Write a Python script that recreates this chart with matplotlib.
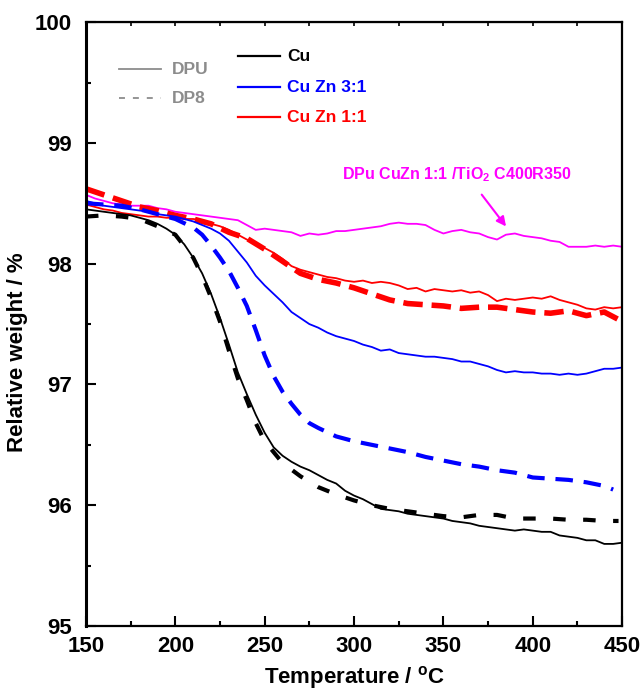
import numpy as np
import matplotlib
matplotlib.use('Agg')
import matplotlib.pyplot as plt

plt.rcParams['font.family'] = ['Liberation Sans', 'DejaVu Sans']
plt.rcParams['font.weight'] = 'bold'
plt.rcParams['mathtext.fontset'] = 'custom'
plt.rcParams['mathtext.rm'] = 'Liberation Sans:bold'
plt.rcParams['mathtext.it'] = 'Liberation Sans:bold'
plt.rcParams['mathtext.bf'] = 'Liberation Sans:bold'

# ---- dados ----
T5 = list(range(150, 451, 5))

cu_dpu = [98.45, 98.44, 98.43, 98.42, 98.41, 98.40, 98.38, 98.36, 98.33, 98.29,
          98.24, 98.16, 98.05, 97.92, 97.75, 97.55, 97.33, 97.10, 96.92, 96.75,
          96.60, 96.48, 96.41, 96.36, 96.32, 96.29, 96.25, 96.21, 96.18, 96.12,
          96.08, 96.05, 96.01, 95.97, 95.96, 95.95, 95.93, 95.92, 95.91, 95.90,
          95.89, 95.87, 95.86, 95.85, 95.83, 95.82, 95.81, 95.80, 95.79, 95.80,
          95.79, 95.78, 95.78, 95.75, 95.74, 95.73, 95.71, 95.71, 95.68, 95.68,
          95.69]

T_cu_dp8 = [150, 160, 170, 180, 190, 200, 210, 215, 220, 225, 230, 235, 240, 245,
            250, 255, 260, 270, 280, 290, 300, 310, 320, 330, 340, 350, 360, 370,
            380, 390, 400, 410, 420, 430, 440, 448]
cu_dp8 = [98.39, 98.40, 98.39, 98.37, 98.31, 98.24, 98.05, 97.90, 97.72, 97.52,
          97.28, 97.05, 96.87, 96.68, 96.53, 96.44, 96.35, 96.24, 96.15, 96.09,
          96.04, 96.00, 95.97, 95.95, 95.93, 95.91, 95.90, 95.92, 95.92, 95.89,
          95.89, 95.89, 95.88, 95.88, 95.87, 95.87]

cuzn31_dpu = [98.52, 98.50, 98.48, 98.47, 98.46, 98.45, 98.44, 98.43, 98.41, 98.40,
              98.39, 98.37, 98.35, 98.32, 98.29, 98.25, 98.19, 98.10, 98.01, 97.90,
              97.82, 97.75, 97.68, 97.60, 97.55, 97.50, 97.47, 97.43, 97.40, 97.38,
              97.36, 97.33, 97.31, 97.28, 97.29, 97.26, 97.25, 97.24, 97.23, 97.23,
              97.22, 97.21, 97.19, 97.19, 97.17, 97.15, 97.12, 97.10, 97.11, 97.10,
              97.10, 97.09, 97.09, 97.08, 97.09, 97.08, 97.09, 97.11, 97.13, 97.13,
              97.14]

T_cuzn31_dp8 = [150, 160, 170, 180, 190, 200, 210, 215, 220, 225, 230, 235, 240,
                245, 250, 255, 260, 265, 270, 275, 280, 290, 300, 310, 320, 330,
                340, 350, 360, 370, 380, 390, 400, 410, 420, 430, 440, 445]
cuzn31_dp8 = [98.50, 98.49, 98.48, 98.45, 98.41, 98.37, 98.30, 98.24, 98.15, 98.05,
              97.94, 97.80, 97.65, 97.45, 97.24, 97.07, 96.94, 96.84, 96.75, 96.68,
              96.64, 96.57, 96.53, 96.50, 96.47, 96.44, 96.40, 96.37, 96.34, 96.32,
              96.29, 96.27, 96.23, 96.22, 96.21, 96.19, 96.16, 96.13]

cuzn11_dpu = [98.49, 98.47, 98.45, 98.44, 98.42, 98.41, 98.40, 98.39, 98.39, 98.38,
              98.38, 98.37, 98.37, 98.36, 98.33, 98.31, 98.28, 98.24, 98.20, 98.17,
              98.13, 98.09, 98.04, 97.98, 97.95, 97.93, 97.91, 97.89, 97.88, 97.86,
              97.85, 97.86, 97.84, 97.85, 97.84, 97.82, 97.79, 97.80, 97.77, 97.79,
              97.78, 97.77, 97.78, 97.76, 97.77, 97.74, 97.69, 97.71, 97.70, 97.71,
              97.72, 97.71, 97.73, 97.70, 97.68, 97.66, 97.63, 97.62, 97.64, 97.63,
              97.64]

T_cuzn11_dp8 = [150, 160, 170, 180, 190, 200, 210, 220, 230, 240, 250, 260, 270,
                280, 290, 300, 310, 320, 330, 340, 350, 360, 370, 380, 390, 400,
                410, 420, 430, 440, 449]
cuzn11_dp8 = [98.62, 98.57, 98.52, 98.47, 98.44, 98.40, 98.37, 98.33, 98.26, 98.21,
              98.12, 98.02, 97.92, 97.87, 97.84, 97.80, 97.75, 97.70, 97.67, 97.66,
              97.65, 97.63, 97.64, 97.64, 97.62, 97.60, 97.59, 97.61, 97.57, 97.60,
              97.53]

tio2 = [98.57, 98.54, 98.52, 98.50, 98.49, 98.48, 98.48, 98.48, 98.46, 98.45,
        98.43, 98.42, 98.41, 98.40, 98.39, 98.38, 98.37, 98.36, 98.32, 98.28,
        98.29, 98.28, 98.27, 98.26, 98.23, 98.25, 98.24, 98.25, 98.27, 98.27,
        98.28, 98.29, 98.30, 98.31, 98.33, 98.34, 98.33, 98.33, 98.32, 98.28,
        98.25, 98.27, 98.28, 98.26, 98.25, 98.22, 98.20, 98.24, 98.25, 98.23,
        98.22, 98.21, 98.19, 98.18, 98.14, 98.14, 98.14, 98.15, 98.14, 98.15,
        98.14]

# ---- figura ----
fig = plt.figure(figsize=(6.44, 6.91), dpi=100)
ax = fig.add_axes([0.1335, 0.094, 0.8325, 0.874])

ax.plot(T5, tio2, color='#FF00FF', lw=1.3)
ax.plot(T5, cuzn11_dpu, color='#FF0000', lw=1.3)
ax.plot(T_cuzn11_dp8, cuzn11_dp8, color='#FF0000', lw=4, dashes=(3.5, 1.6))
ax.plot(T5, cuzn31_dpu, color='#0000FF', lw=1.3)
ax.plot(T_cuzn31_dp8, cuzn31_dp8, color='#0000FF', lw=3, dashes=(4.2, 2.6))
ax.plot(T5, cu_dpu, color='black', lw=1.3)
ax.plot(T_cu_dp8, cu_dp8, color='black', lw=3, dashes=(3, 4.2))

# anotação
ax.text(293.3, 98.733, 'DPu CuZn 1:1 /TiO$_2$ C400R350', color='#FF00FF',
        fontsize=11.5, va='center', ha='left')
ax.annotate('', xy=(386, 98.29), xytext=(370.5, 98.59),
            arrowprops=dict(arrowstyle='-|>', color='#FF00FF', lw=1.5,
                            mutation_scale=14))

# legendas manuais
cinza = '#8C8C8C'
ax.plot([0.0616, 0.1399], [0.922, 0.922], transform=ax.transAxes, color=cinza, lw=1.3)
ax.plot([0.0616, 0.1399], [0.874, 0.874], transform=ax.transAxes, color=cinza, lw=1.3,
        dashes=(3.3, 4.4))
ax.text(0.160, 0.922, 'DPU', transform=ax.transAxes, color=cinza, fontsize=12.5, va='center')
ax.text(0.160, 0.874, 'DP8', transform=ax.transAxes, color=cinza, fontsize=12.5, va='center')

nomes = ['Cu', 'Cu Zn 3:1', 'Cu Zn 1:1']
cores = ['black', '#0000FF', '#FF0000']
ys = [0.9437, 0.8924, 0.8427]
for nome, cor, y in zip(nomes, cores, ys):
    ax.plot([0.2836, 0.3619], [y, y], transform=ax.transAxes, color=cor, lw=1.6)
    ax.text(0.375, y, nome, transform=ax.transAxes, color=cor, fontsize=12.5, va='center')

# eixos
ax.set_xlim(150, 450)
ax.set_ylim(95, 100)
ax.set_xticks(np.arange(150, 451, 50))
ax.set_xticks(np.arange(175, 450, 50), minor=True)
ax.set_yticks(np.arange(95, 100.1, 1))
ax.set_yticks(np.arange(95.5, 100, 1), minor=True)
ax.tick_params(which='major', direction='in', length=7, width=1.5, labelsize=16)
ax.tick_params(which='minor', direction='in', length=3.5, width=1.5)
ax.tick_params(axis='x', pad=7)
ax.tick_params(axis='y', pad=10)
for s in ['bottom', 'right', 'top']:
    ax.spines[s].set_linewidth(1.6)
ax.spines['left'].set_linewidth(2.2)

top = ax.secondary_xaxis('top')
top.set_xticks(np.arange(150, 451, 25))
top.set_xticklabels([])
top.tick_params(direction='in', length=3, width=1.2)

ax.set_xlabel('Temperature / $^{\\mathrm{o}}$C', fontsize=16, fontweight='bold')
ax.set_ylabel('Relative weight / %', fontsize=16, fontweight='bold')
ax.xaxis.set_label_coords(0.5, -0.063)
ax.yaxis.set_label_coords(-0.108, 0.454)

plt.savefig('out.png', dpi=100)
